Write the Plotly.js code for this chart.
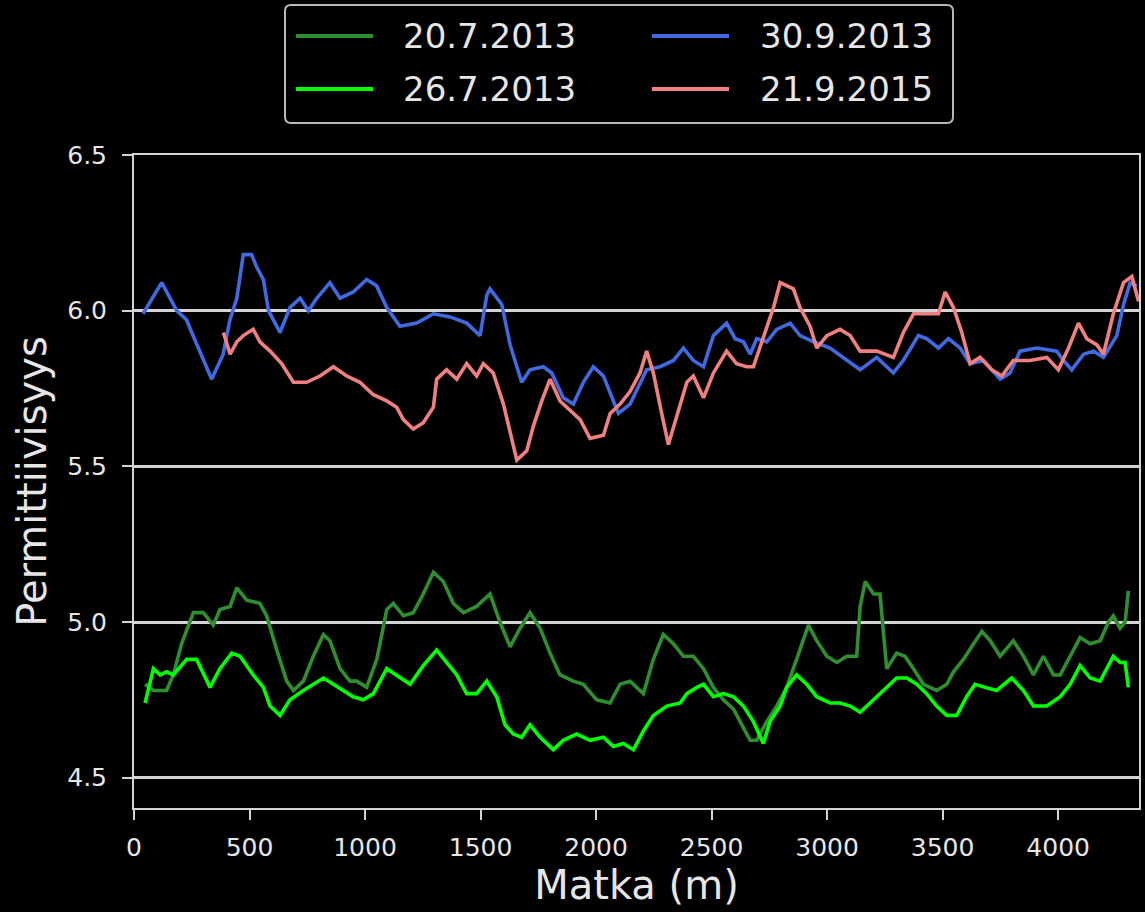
<!DOCTYPE html>
<html>
<head>
<meta charset="utf-8">
<script src="https://cdn.plot.ly/plotly-3.0.1.min.js"></script>
<style>
  html, body { margin: 0; padding: 0; background: #000; }
  #chart { width: 1145px; height: 912px; }
</style>
</head>
<body>
<div id="chart"></div>
<script>
// ---- Data ----
const seriesNames = ["20.7.2013", "26.7.2013", "30.9.2013", "21.9.2015"];

const x_20_7_2013 = [48, 84, 141, 170, 206, 257, 300, 343, 372, 416, 445, 488, 545, 574, 618, 661, 690, 733, 776, 820, 848, 892, 935, 964, 1007, 1051, 1094, 1122, 1166, 1209, 1252, 1296, 1339, 1382, 1426, 1483, 1541, 1584, 1628, 1671, 1714, 1758, 1801, 1844, 1902, 1945, 2003, 2061, 2104, 2147, 2205, 2248, 2291, 2335, 2378, 2421, 2465, 2508, 2551, 2595, 2638, 2667, 2695, 2739, 2782, 2825, 2868, 2919, 2955, 2999, 3042, 3085, 3128, 3143, 3165, 3201, 3229, 3251, 3258, 3301, 3337, 3374, 3417, 3474, 3518, 3547, 3590, 3634, 3670, 3706, 3749, 3806, 3850, 3893, 3936, 3980, 4009, 4052, 4095, 4139, 4182, 4218, 4239, 4268, 4290, 4304];
const y_20_7_2013 = [4.80, 4.78, 4.78, 4.83, 4.93, 5.03, 5.03, 4.99, 5.04, 5.05, 5.11, 5.07, 5.06, 5.02, 4.91, 4.81, 4.78, 4.81, 4.89, 4.96, 4.94, 4.85, 4.81, 4.81, 4.79, 4.88, 5.04, 5.06, 5.02, 5.03, 5.09, 5.16, 5.13, 5.06, 5.03, 5.05, 5.09, 5.00, 4.92, 4.98, 5.03, 4.98, 4.90, 4.83, 4.81, 4.80, 4.75, 4.74, 4.80, 4.81, 4.77, 4.88, 4.96, 4.93, 4.89, 4.89, 4.85, 4.79, 4.75, 4.72, 4.66, 4.62, 4.62, 4.68, 4.73, 4.79, 4.88, 4.99, 4.94, 4.89, 4.87, 4.89, 4.89, 5.05, 5.13, 5.09, 5.09, 4.88, 4.85, 4.90, 4.89, 4.85, 4.80, 4.78, 4.80, 4.84, 4.88, 4.93, 4.97, 4.94, 4.89, 4.94, 4.89, 4.83, 4.89, 4.83, 4.83, 4.89, 4.95, 4.93, 4.94, 5.00, 5.02, 4.98, 5.00, 5.10];

const x_26_7_2013 = [48, 84, 113, 141, 170, 228, 271, 329, 372, 423, 459, 516, 560, 589, 632, 675, 733, 776, 820, 863, 906, 949, 993, 1036, 1094, 1137, 1195, 1252, 1310, 1353, 1397, 1440, 1483, 1527, 1570, 1606, 1642, 1678, 1714, 1758, 1815, 1858, 1916, 1974, 2032, 2075, 2118, 2162, 2205, 2248, 2306, 2364, 2393, 2436, 2465, 2508, 2551, 2595, 2638, 2681, 2724, 2753, 2797, 2825, 2868, 2912, 2955, 3013, 3056, 3100, 3143, 3186, 3244, 3301, 3345, 3388, 3431, 3474, 3518, 3561, 3604, 3640, 3684, 3734, 3799, 3850, 3893, 3951, 4009, 4052, 4095, 4139, 4182, 4211, 4239, 4268, 4290, 4304];
const y_26_7_2013 = [4.74, 4.85, 4.83, 4.84, 4.83, 4.88, 4.88, 4.79, 4.85, 4.90, 4.89, 4.83, 4.79, 4.73, 4.70, 4.75, 4.78, 4.80, 4.82, 4.80, 4.78, 4.76, 4.75, 4.77, 4.85, 4.83, 4.80, 4.86, 4.91, 4.87, 4.83, 4.77, 4.77, 4.81, 4.76, 4.67, 4.64, 4.63, 4.67, 4.63, 4.59, 4.62, 4.64, 4.62, 4.63, 4.60, 4.61, 4.59, 4.65, 4.70, 4.73, 4.74, 4.77, 4.79, 4.80, 4.76, 4.77, 4.76, 4.73, 4.68, 4.61, 4.68, 4.73, 4.79, 4.83, 4.80, 4.76, 4.74, 4.74, 4.73, 4.71, 4.74, 4.78, 4.82, 4.82, 4.80, 4.77, 4.73, 4.70, 4.70, 4.76, 4.80, 4.79, 4.78, 4.82, 4.78, 4.73, 4.73, 4.76, 4.80, 4.86, 4.82, 4.81, 4.85, 4.89, 4.87, 4.87, 4.79];

const x_30_9_2013 = [39, 120, 185, 228, 250, 336, 386, 415, 445, 473, 509, 531, 560, 582, 632, 675, 719, 755, 791, 848, 892, 949, 1007, 1050, 1094, 1151, 1224, 1296, 1368, 1440, 1498, 1527, 1541, 1592, 1628, 1678, 1714, 1772, 1808, 1858, 1902, 1945, 1988, 2032, 2075, 2097, 2147, 2219, 2277, 2335, 2378, 2421, 2465, 2508, 2565, 2602, 2638, 2667, 2695, 2739, 2782, 2840, 2883, 2941, 3013, 3085, 3143, 3215, 3287, 3330, 3395, 3431, 3482, 3525, 3576, 3619, 3677, 3749, 3792, 3835, 3908, 3994, 4023, 4059, 4110, 4153, 4196, 4254, 4283, 4312, 4341];
const y_30_9_2013 = [5.99, 6.09, 6.00, 5.97, 5.93, 5.78, 5.86, 5.97, 6.04, 6.18, 6.18, 6.14, 6.10, 6.00, 5.93, 6.01, 6.04, 6.00, 6.04, 6.09, 6.04, 6.06, 6.10, 6.08, 6.01, 5.95, 5.96, 5.99, 5.98, 5.96, 5.92, 6.05, 6.07, 6.02, 5.89, 5.77, 5.81, 5.82, 5.80, 5.72, 5.70, 5.77, 5.82, 5.79, 5.71, 5.67, 5.70, 5.81, 5.82, 5.84, 5.88, 5.84, 5.82, 5.92, 5.96, 5.91, 5.90, 5.86, 5.91, 5.90, 5.94, 5.96, 5.92, 5.90, 5.88, 5.84, 5.81, 5.85, 5.80, 5.84, 5.92, 5.91, 5.88, 5.91, 5.88, 5.83, 5.84, 5.78, 5.80, 5.87, 5.88, 5.87, 5.84, 5.81, 5.86, 5.87, 5.85, 5.92, 6.02, 6.09, 6.08];

const x_21_9_2015 = [387, 416, 445, 473, 516, 545, 589, 639, 690, 747, 805, 863, 921, 978, 1036, 1094, 1137, 1166, 1209, 1252, 1296, 1310, 1353, 1397, 1440, 1483, 1512, 1555, 1599, 1628, 1657, 1700, 1729, 1765, 1801, 1844, 1887, 1931, 1974, 2032, 2061, 2104, 2147, 2190, 2219, 2248, 2284, 2313, 2349, 2393, 2421, 2465, 2508, 2565, 2608, 2652, 2681, 2724, 2768, 2797, 2854, 2883, 2926, 2955, 2999, 3056, 3100, 3143, 3215, 3287, 3330, 3374, 3431, 3482, 3511, 3547, 3583, 3619, 3662, 3713, 3756, 3806, 3878, 3951, 4001, 4045, 4088, 4124, 4168, 4196, 4239, 4283, 4319, 4348];
const y_21_9_2015 = [5.93, 5.86, 5.90, 5.92, 5.94, 5.90, 5.87, 5.83, 5.77, 5.77, 5.79, 5.82, 5.79, 5.77, 5.73, 5.71, 5.69, 5.65, 5.62, 5.64, 5.69, 5.78, 5.81, 5.78, 5.83, 5.79, 5.83, 5.80, 5.70, 5.61, 5.52, 5.55, 5.63, 5.71, 5.78, 5.71, 5.68, 5.65, 5.59, 5.60, 5.67, 5.70, 5.74, 5.80, 5.87, 5.80, 5.67, 5.57, 5.66, 5.77, 5.79, 5.72, 5.80, 5.87, 5.83, 5.82, 5.82, 5.91, 6.01, 6.09, 6.07, 6.01, 5.95, 5.88, 5.92, 5.94, 5.92, 5.87, 5.87, 5.85, 5.93, 5.99, 5.99, 5.99, 6.06, 6.01, 5.93, 5.83, 5.85, 5.81, 5.79, 5.84, 5.84, 5.85, 5.81, 5.88, 5.96, 5.91, 5.89, 5.86, 5.99, 6.09, 6.11, 6.03];

const xTickVals = [0, 500, 1000, 1500, 2000, 2500, 3000, 3500, 4000];
const yTickVals = [4.5, 5.0, 5.5, 6.0, 6.5];

// ---- Styles ----
const colors = ["#2f8f2f", "#00ff00", "#4169e1", "#f08080"];
const FONT = "DejaVu Sans, Verdana, sans-serif";
const TXT = "#e6e6e6";
const LINE = "#d4d4d4";

const xs = [x_20_7_2013, x_26_7_2013, x_30_9_2013, x_21_9_2015];
const ys = [y_20_7_2013, y_26_7_2013, y_30_9_2013, y_21_9_2015];

const traces = seriesNames.map((name, i) => ({
  type: "scatter",
  mode: "lines",
  name: name,
  x: xs[i],
  y: ys[i],
  line: { color: colors[i], width: 3.6 },
  showlegend: false,
  hoverinfo: "x+y+name"
}));

// ---- Layout geometry ----
const W = 1145, H = 912;
const M = { l: 134, r: 6, t: 155, b: 104 };
const pw = W - M.l - M.r, ph = H - M.t - M.b;
const px2x = p => (p - M.l) / pw;
const py2y = p => (H - M.b - p) / ph;

// manual legend (2 columns x 2 rows inside a rounded box)
const box = { x0: 285, x1: 953, y0: 5, y1: 123, r: 6 };
function roundedRectPath(b) {
  const X = px2x, Y = py2y;
  return "M " + X(b.x0 + b.r) + "," + Y(b.y0) +
    " L " + X(b.x1 - b.r) + "," + Y(b.y0) +
    " Q " + X(b.x1) + "," + Y(b.y0) + " " + X(b.x1) + "," + Y(b.y0 + b.r) +
    " L " + X(b.x1) + "," + Y(b.y1 - b.r) +
    " Q " + X(b.x1) + "," + Y(b.y1) + " " + X(b.x1 - b.r) + "," + Y(b.y1) +
    " L " + X(b.x0 + b.r) + "," + Y(b.y1) +
    " Q " + X(b.x0) + "," + Y(b.y1) + " " + X(b.x0) + "," + Y(b.y1 - b.r) +
    " L " + X(b.x0) + "," + Y(b.y0 + b.r) +
    " Q " + X(b.x0) + "," + Y(b.y0) + " " + X(b.x0 + b.r) + "," + Y(b.y0) + " Z";
}
const legendSlots = [
  { line: [296, 373], text: 401, row: 36 },  // 20.7.2013
  { line: [296, 373], text: 401, row: 89 },  // 26.7.2013
  { line: [652, 729], text: 758, row: 36 },  // 30.9.2013
  { line: [652, 729], text: 758, row: 89 }   // 21.9.2015
];

const shapes = [{
  type: "path", xref: "paper", yref: "paper",
  path: roundedRectPath(box),
  line: { color: "#b8b8b8", width: 2 },
  fillcolor: "#000000", layer: "above"
}];
const annotations = [];
seriesNames.forEach((name, i) => {
  const s = legendSlots[i];
  shapes.push({
    type: "line", xref: "paper", yref: "paper",
    x0: px2x(s.line[0]), x1: px2x(s.line[1]),
    y0: py2y(s.row), y1: py2y(s.row),
    line: { color: colors[i], width: 4 }, layer: "above"
  });
  annotations.push({
    xref: "paper", yref: "paper",
    x: px2x(s.text), y: py2y(s.row),
    xanchor: "left", yanchor: "middle",
    text: name, showarrow: false,
    font: { family: FONT, size: 34, color: TXT }
  });
});

const layout = {
  width: W, height: H,
  margin: M,
  paper_bgcolor: "#000000",
  plot_bgcolor: "#000000",
  font: { family: FONT, color: TXT },
  showlegend: false,
  xaxis: {
    range: [0, 4350],
    tickmode: "array", tickvals: xTickVals,
    ticktext: xTickVals.map(String),
    ticks: "outside", ticklen: 10, tickwidth: 2, tickcolor: LINE,
    tickfont: { family: FONT, size: 25, color: TXT },
    ticklabelstandoff: 6,
    showgrid: false, zeroline: false,
    showline: true, linecolor: LINE, linewidth: 2, mirror: true,
    title: { text: "Matka (m)", font: { family: FONT, size: 40, color: TXT }, standoff: 6 },
    automargin: false
  },
  yaxis: {
    range: [4.4026, 6.5],
    tickmode: "array", tickvals: yTickVals,
    ticktext: yTickVals.map(v => v.toFixed(1)),
    ticks: "outside", ticklen: 10, tickwidth: 2, tickcolor: LINE,
    tickfont: { family: FONT, size: 25, color: TXT },
    ticklabelstandoff: 10,
    showgrid: true, gridcolor: LINE, gridwidth: 2.5,
    zeroline: false,
    showline: true, linecolor: LINE, linewidth: 2, mirror: true,
    title: { text: "Permittiivisyys", font: { family: FONT, size: 40, color: TXT }, standoff: 8 },
    automargin: false
  },
  shapes: shapes,
  annotations: annotations
};

Plotly.newPlot("chart", traces, layout, { displayModeBar: false, responsive: false });
</script>
</body>
</html>
